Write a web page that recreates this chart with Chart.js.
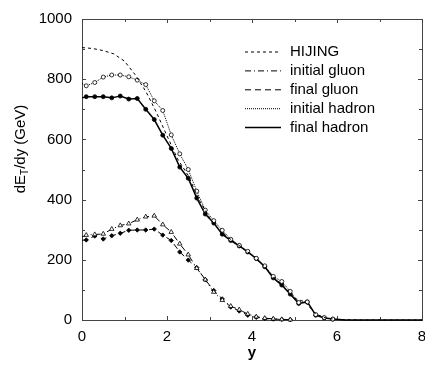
<!DOCTYPE html>
<html>
<head>
<meta charset="utf-8">
<script src="https://cdn.jsdelivr.net/npm/chart.js@4"></script>
<style>
  body { margin: 0; overflow: hidden; background: #fff; }
  #wrap { width: 440px; height: 368px; }
</style>
</head>
<body>
<div id="wrap"><canvas id="det-chart"></canvas></div>
<script>
// rapidity values of each series
const hijingRap = [0, 0.25, 0.5, 0.75, 1, 1.25, 1.5, 1.75, 2, 2.25, 2.5, 2.75, 3, 3.25, 3.5, 3.75, 4, 4.25, 4.5, 4.75, 5, 5.25, 5.5, 5.75, 6, 6.5, 7, 7.5, 8];
const gluonRap = [0, 0.1, 0.3, 0.5, 0.7, 0.9, 1.1, 1.3, 1.5, 1.7, 1.9, 2.1, 2.3, 2.5, 2.7, 2.9, 3.1, 3.3, 3.5, 3.7, 3.9, 4.1, 4.3, 4.5, 4.7, 4.9];
const initHadronRap = [0, 0.1, 0.3, 0.5, 0.7, 0.9, 1.1, 1.3, 1.5, 1.7, 1.9, 2.1, 2.3, 2.5, 2.7, 2.9, 3.1, 3.3, 3.5, 3.7, 3.9, 4.1, 4.3, 4.5, 4.7, 4.9, 5.1, 5.3, 5.5, 5.7, 5.9];
const finalHadronRap = [0, 0.1, 0.3, 0.5, 0.7, 0.9, 1.1, 1.3, 1.5, 1.7, 1.9, 2.1, 2.3, 2.5, 2.7, 2.9, 3.1, 3.3, 3.5, 3.7, 3.9, 4.1, 4.3, 4.5, 4.7, 4.9, 5.1, 5.3, 5.5, 5.7, 5.9, 6.2, 7, 8];

// dE_T/dy (GeV)
const hijing = [905, 902, 895, 884, 860, 815, 760, 690, 612, 535, 480, 400, 340, 295, 268, 242, 215, 185, 142, 112, 72, 60, 20, 6, 2, 0, 0, 0, 0];
const initialGluon = [276, 282, 284, 286, 302, 314, 320, 333, 343, 346, 317, 292, 253, 217, 172, 134, 93, 66, 46, 34, 20, 11, 6, 4, 2, 1];
const finalGluon = [265, 266, 279, 269, 280, 288, 298, 299, 299, 302, 282, 264, 226, 199, 174, 134, 98, 70, 43, 30, 16, 9, 5, 3, 2, 1];
const initialHadron = [786, 778, 789, 807, 814, 814, 808, 797, 782, 728, 696, 615, 552, 500, 428, 365, 330, 298, 268, 248, 228, 205, 180, 145, 128, 95, 58, 60, 18, 8, 3];
const finalHadron = [738, 742, 742, 742, 738, 744, 734, 736, 700, 666, 614, 570, 508, 471, 405, 352, 322, 285, 264, 246, 226, 204, 177, 140, 116, 86, 55, 60, 16, 7, 3, 0, 0, 0];

const xTicks = [0, 2, 4, 6, 8];
const yTicks = [0, 200, 400, 600, 800, 1000];

const FONT = '"Liberation Sans", Arial, sans-serif';

function pts(xs, ys) {
  return xs.map((x, i) => ({ x: x, y: ys[i] }));
}

// hide markers at y=0 start and on the flat tail
function markerSize(r) {
  return (c) => (c.raw && (c.raw.x === 0 || c.raw.x > 6) ? 0 : r);
}

// frame with inward ticks on all four sides
const frameTicks = {
  id: 'frameTicks',
  beforeDatasetsDraw(chart) {
    const { ctx, chartArea: a, scales } = chart;
    ctx.save();
    ctx.strokeStyle = '#444';
    ctx.lineWidth = 1;
    ctx.strokeRect(a.left + 0.5, a.top + 0.5, a.right - a.left, a.bottom - a.top);
    ctx.beginPath();
    for (let v = 0; v <= 8; v++) {
      const px = Math.round(scales.x.getPixelForValue(v)) + 0.5;
      const len = v % 2 === 0 ? 4 : 3;
      ctx.moveTo(px, a.bottom); ctx.lineTo(px, a.bottom - len);
      ctx.moveTo(px, a.top); ctx.lineTo(px, a.top + len);
    }
    for (let v = 0; v <= 1000; v += 100) {
      const py = Math.round(scales.y.getPixelForValue(v)) + 0.5;
      const len = v % 200 === 0 ? 4 : 3;
      ctx.moveTo(a.left, py); ctx.lineTo(a.left + len, py);
      ctx.moveTo(a.right, py); ctx.lineTo(a.right - len, py);
    }
    ctx.stroke();
    ctx.restore();
  },
  afterDraw(chart) {
    const { ctx } = chart;
    ctx.save();
    // y axis title with subscript
    ctx.fillStyle = '#000';
    ctx.translate(21, 149);
    ctx.rotate(-Math.PI / 2);
    ctx.textBaseline = 'middle';
    const big = '15px ' + FONT;
    const small = '10px ' + FONT;
    ctx.font = big;
    const w1 = ctx.measureText('dE').width;
    const w3 = ctx.measureText('/dy (GeV)').width;
    ctx.font = small;
    const w2 = ctx.measureText('T').width;
    let x0 = -(w1 + w2 + w3) / 2;
    ctx.font = big;
    ctx.fillText('dE', x0, 0);
    ctx.font = small;
    ctx.fillText('T', x0 + w1, 4);
    ctx.font = big;
    ctx.fillText('/dy (GeV)', x0 + w1 + w2, 0);
    ctx.restore();

    // legend
    ctx.save();
    ctx.font = '15px ' + FONT;
    ctx.textBaseline = 'middle';
    ctx.fillStyle = '#000';
    chart.data.datasets.forEach((ds, i) => {
      const yy = 52 + i * 18.9;
      ctx.strokeStyle = '#000';
      ctx.lineWidth = ds.borderWidth;
      ctx.setLineDash(ds.borderDash || []);
      ctx.beginPath();
      ctx.moveTo(245, yy);
      ctx.lineTo(281, yy);
      ctx.stroke();
      ctx.fillText(ds.label, 290, yy);
    });
    ctx.restore();
  }
};

new Chart(document.getElementById('det-chart'), {
  type: 'line',
  data: {
    datasets: [
      {
        label: 'HIJING',
        data: pts(hijingRap, hijing),
        borderColor: '#000',
        borderWidth: 1,
        borderDash: [3, 3],
        pointRadius: 0,
        clip: false
      },
      {
        label: 'initial gluon',
        data: pts(gluonRap, initialGluon),
        borderColor: '#000',
        borderWidth: 1,
        borderDash: [6, 3, 1, 3],
        pointStyle: 'triangle',
        pointRadius: markerSize(2.6),
        pointBackgroundColor: '#fff',
        pointBorderColor: '#000',
        pointBorderWidth: 0.8,
        clip: false
      },
      {
        label: 'final gluon',
        data: pts(gluonRap, finalGluon),
        borderColor: '#000',
        borderWidth: 1,
        borderDash: [6, 4],
        pointStyle: 'rectRot',
        pointRadius: markerSize(2.2),
        pointBackgroundColor: '#000',
        pointBorderColor: '#000',
        pointBorderWidth: 0.8,
        clip: false
      },
      {
        label: 'initial hadron',
        data: pts(initHadronRap, initialHadron),
        borderColor: '#000',
        borderWidth: 1,
        borderDash: [1, 1],
        pointStyle: 'circle',
        pointRadius: markerSize(2),
        pointBackgroundColor: '#fff',
        pointBorderColor: '#000',
        pointBorderWidth: 0.8,
        clip: false
      },
      {
        label: 'final hadron',
        data: pts(finalHadronRap, finalHadron),
        borderColor: '#000',
        borderWidth: 1.5,
        pointStyle: 'circle',
        pointRadius: markerSize(2),
        pointBackgroundColor: '#000',
        pointBorderColor: '#000',
        pointBorderWidth: 0.8,
        clip: false
      }
    ]
  },
  options: {
    responsive: true,
    maintainAspectRatio: false,
    animation: false,
    layout: { padding: { left: 0, top: 10, right: 18, bottom: 0 } },
    scales: {
      x: {
        type: 'linear',
        min: 0,
        max: 8,
        afterFit: (s) => { s.height = 48; },
        afterBuildTicks: (s) => { s.ticks = xTicks.map((v) => ({ value: v })); },
        grid: { display: false, drawTicks: false },
        border: { display: false },
        ticks: {
          padding: 8,
          color: '#000',
          font: { size: 15, family: FONT },
          callback: (v) => String(v)
        },
        title: {
          display: true,
          text: 'y',
          color: '#000',
          padding: { top: 0, bottom: 6 },
          font: { size: 15, weight: 'bold', family: FONT }
        }
      },
      y: {
        min: 0,
        max: 1000,
        afterFit: (s) => { s.width = 82; },
        afterBuildTicks: (s) => { s.ticks = yTicks.map((v) => ({ value: v })); },
        grid: { display: false, drawTicks: false },
        border: { display: false },
        ticks: {
          padding: 10,
          color: '#000',
          font: { size: 15, family: FONT },
          callback: (v) => String(v)
        }
      }
    },
    plugins: {
      legend: { display: false },
      tooltip: { enabled: false }
    }
  },
  plugins: [frameTicks]
});
</script>
</body>
</html>
